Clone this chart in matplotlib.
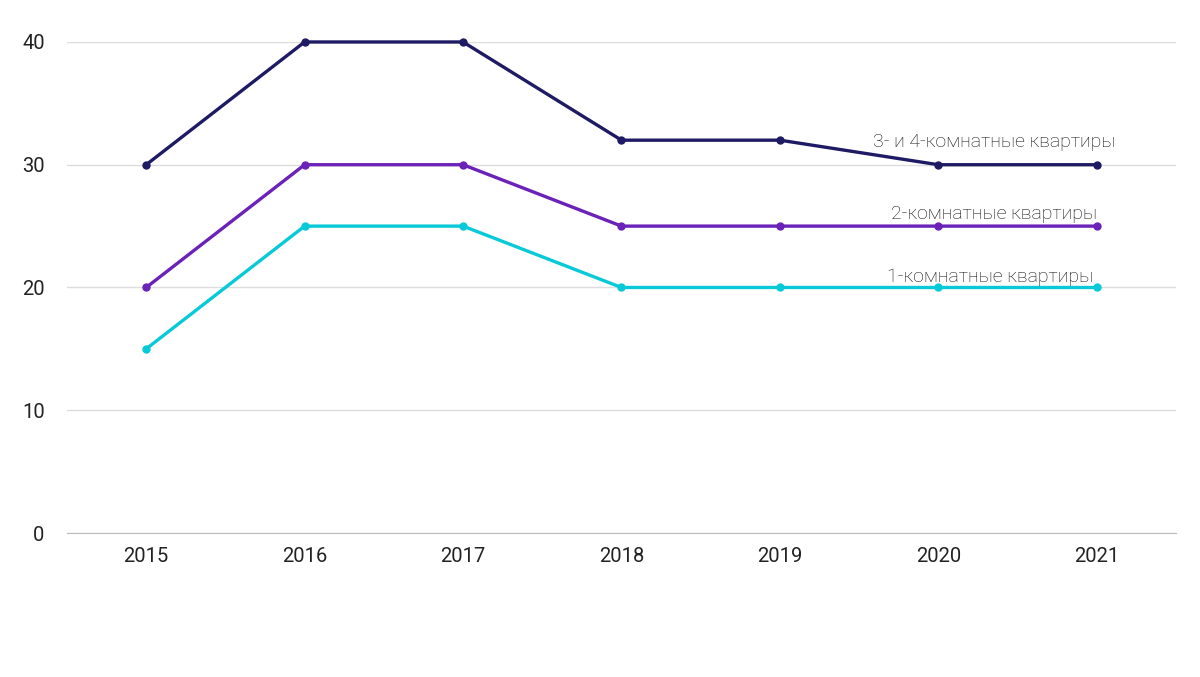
import matplotlib.pyplot as plt

years = ['2015', '2016', '2017', '2018', '2019', '2020', '2021']
rooms_34 = [30, 40, 40, 32, 32, 30, 30]
rooms_2 = [20, 30, 30, 25, 25, 25, 25]
rooms_1 = [15, 25, 25, 20, 20, 20, 20]

series_names = ['3- и 4-комнатные квартиры', '2-комнатные квартиры', '1-комнатные квартиры']
colors = ['#1e1a63', '#6a22b8', '#08c9d8']

plt.rcParams['font.family'] = ['Roboto', 'DejaVu Sans']

fig = plt.figure(figsize=(12, 6.77), dpi=100)
ax = fig.add_axes([0.0558, 0.2127, 0.9242, 0.7253])

x = list(range(len(years)))
for vals, c in zip([rooms_34, rooms_2, rooms_1], colors):
    ax.plot(x, vals, color=c, linewidth=2.4, marker='o', markersize=5,
            zorder=3, clip_on=False)

# series labels near the right end
label_pos = [(6.12, 31.85), (6.0, 26.0), (5.98, 20.85)]
for name, (lx, ly) in zip(series_names, label_pos):
    ax.text(lx, ly, name, ha='right', va='center', fontsize=14,
            fontweight='light', color='#111111')

ax.set_xlim(-0.5, 6.5)
ax.set_ylim(0, 40)
ax.set_yticks([0, 10, 20, 30, 40])
ax.set_xticks(x)
ax.set_xticklabels(years)
ax.grid(axis='y', color='#dddddd', linewidth=1)
ax.set_axisbelow(True)
for s in ['top', 'right', 'left']:
    ax.spines[s].set_visible(False)
ax.spines['bottom'].set_color('#bbbbbb')
ax.tick_params(length=0, labelsize=14.5, colors='#222222')
ax.tick_params(axis='x', pad=10)
ax.tick_params(axis='y', pad=16)

fig.savefig('out.png', dpi=100)
